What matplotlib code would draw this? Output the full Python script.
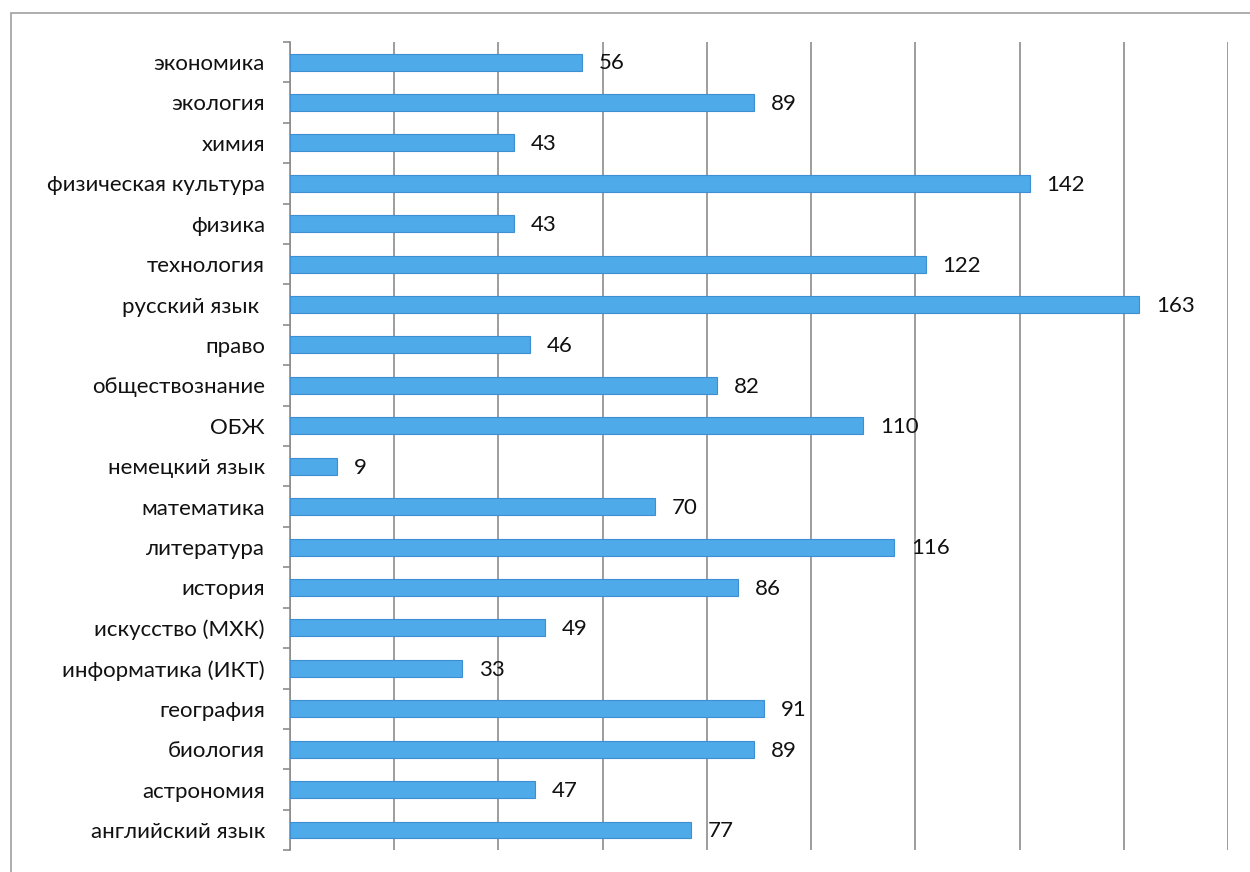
import numpy as np
import matplotlib.pyplot as plt
from matplotlib.patches import Rectangle

predmety = ["экономика", "экология", "химия", "физическая культура", "физика",
            "технология", "русский язык ", "право", "обществознание", "ОБЖ",
            "немецкий язык", "математика", "литература", "история",
            "искусство (МХК)", "информатика (ИКТ)", "география", "биология",
            "астрономия", "английский язык"]
kolvo = [56, 89, 43, 142, 43, 122, 163, 46, 82, 110, 9, 70, 116, 86, 49, 33, 91, 89, 47, 77]

plt.rcParams['font.family'] = ['Lato', 'DejaVu Sans']

fig = plt.figure(figsize=(12.5, 8.72), dpi=100)
ax = fig.add_axes([0.232, 0.025, 0.7504, 0.927])

# рамка вокруг диаграммы
fig.patches.append(Rectangle((11 / 1250, -0.05), 1.1, 1 - 13 / 872 + 0.05,
                             transform=fig.transFigure, fill=False,
                             edgecolor='#a0a0a0', linewidth=1.2))

y = np.arange(len(predmety))
ax.barh(y, kolvo, height=0.42, color='#4EAAE8', edgecolor='#3D8ED3', linewidth=0.8, zorder=3)
for i in range(len(kolvo)):
    ax.annotate(str(kolvo[i]), (kolvo[i], y[i]), xytext=(12, -1), textcoords='offset points',
                va='center', ha='left', fontsize=16, color='#111111', zorder=4)

ax.set_xlim(0, 180)
ax.set_ylim(len(predmety) - 0.5, -0.5)
ax.set_xticks(np.arange(0, 181, 20))
ax.set_xticklabels([])
ax.tick_params(axis='x', length=0)
ax.grid(axis='x', color='#8c8c8c', linewidth=1.2, zorder=0)

ax.set_yticks(y)
ax.set_yticklabels(predmety, fontsize=16, color='#111111')
ax.set_yticks(np.arange(-0.5, len(predmety), 1), minor=True)
ax.tick_params(axis='y', which='major', length=0, pad=18)
ax.tick_params(axis='y', which='minor', length=5, color='#8c8c8c', width=1.2)

for s in ['top', 'right', 'bottom']:
    ax.spines[s].set_visible(False)
ax.spines['left'].set_color('#8c8c8c')
ax.spines['left'].set_linewidth(1.2)

fig.savefig('out.png', dpi=100)
